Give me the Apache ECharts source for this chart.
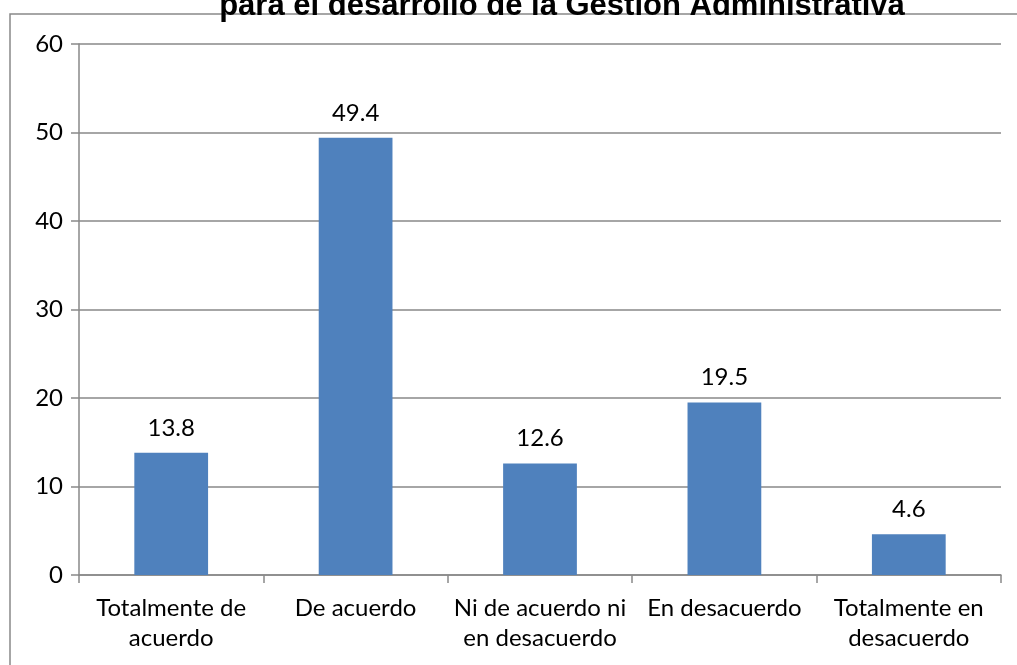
<!DOCTYPE html>
<html>
<head>
<meta charset="utf-8">
<script src="https://cdn.jsdelivr.net/npm/echarts@6/dist/echarts.min.js"></script>
<style>html,body{margin:0;padding:0;background:#fff;}#c{width:1017px;height:665px;}</style>
</head>
<body>
<div id="c"></div>
<script>
const titleText = 'para el desarrollo de la Gestión Administrativa';
const categories = ['Totalmente de\nacuerdo', 'De acuerdo', 'Ni de acuerdo ni\nen desacuerdo', 'En desacuerdo', 'Totalmente en\ndesacuerdo'];
const values = [13.8, 49.4, 12.6, 19.5, 4.6];
const yTicks = [0, 10, 20, 30, 40, 50, 60];

const font = 'Lato, "Open Sans", sans-serif';
const chart = echarts.init(document.getElementById('c'), null, {renderer: 'canvas'});
chart.setOption({
  animation: false,
  backgroundColor: '#fff',
  title: {
    text: titleText,
    left: 557,
    textAlign: 'center',
    top: -14,
    textStyle: {fontFamily: '"Liberation Sans", Arial, sans-serif', fontWeight: 'bold', fontSize: 31, color: '#000'}
  },
  graphic: [{
    type: 'rect', z: 0, silent: true,
    shape: {x: 10, y: 14, width: 1020, height: 700},
    style: {fill: null, stroke: '#898989', lineWidth: 1.5}
  }],
  grid: {left: 79, right: 16, top: 44, bottom: 90, containLabel: false},
  xAxis: {
    type: 'category',
    data: categories,
    axisLine: {lineStyle: {color: '#898989', width: 1.5}},
    axisTick: {show: true, length: 8, alignWithLabel: false, lineStyle: {color: '#898989', width: 1.5}},
    axisLabel: {fontFamily: font, fontSize: 24, color: '#000', margin: 18, lineHeight: 30, interval: 0}
  },
  yAxis: {
    type: 'value',
    min: yTicks[0], max: yTicks[yTicks.length - 1], interval: 10,
    axisLine: {show: true, lineStyle: {color: '#898989', width: 1.5}},
    axisTick: {show: true, length: 8, lineStyle: {color: '#898989', width: 1.5}},
    splitLine: {lineStyle: {color: '#898989', width: 1.5}},
    axisLabel: {fontFamily: font, fontSize: 24, color: '#000', margin: 16}
  },
  series: [{
    type: 'bar',
    data: values,
    barCategoryGap: '60%',
    itemStyle: {color: '#4F81BD'},
    label: {show: true, position: 'top', distance: 13, fontFamily: font, fontSize: 24, color: '#000'}
  }]
});
</script>
</body>
</html>
